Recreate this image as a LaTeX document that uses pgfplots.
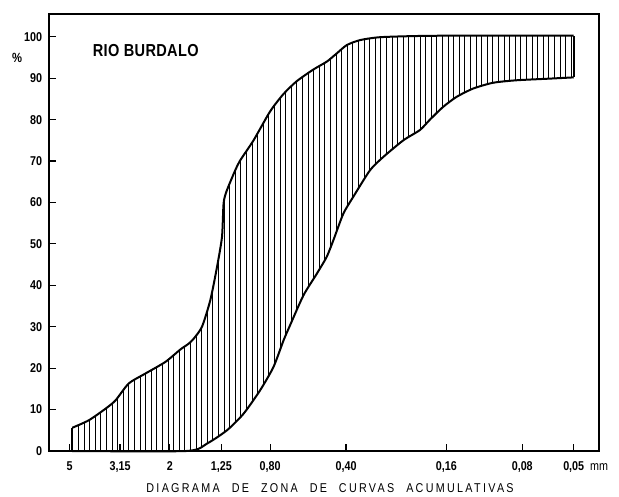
\documentclass[border=0pt]{standalone}
\usepackage{fontspec}
\setmainfont{Liberation Sans}[FakeStretch=0.84]
\usepackage{pgfplots}
\pgfplotsset{compat=1.18}
\usepgfplotslibrary{fillbetween}
\usetikzlibrary{patterns.meta}

\pgfplotstableread{
x y
4.88 5.6
4.195 7.4
3.601 10.2
3.287 12.2
2.911 16.3
2.500 18.7
2.084 21.5
1.817 24.5
1.685 25.9
1.609 27.1
1.491 30.0
1.382 36.4
1.300 44.4
1.242 51.7
1.224 59.8
1.190 62.8
1.100 67.8
1.051 70.2
0.931 75.0
0.800 82.0
0.708 86.2
0.627 89.3
0.539 92.1
0.477 94.0
0.4352 96.0
0.3973 98.0
0.3520 99.2
0.2934 99.9
0.2036 100.2
0.1253 100.3
0.05 100.3
}\uppertab

\pgfplotstableread{
x y
4.88 0
1.720 0
1.424 1.8
1.187 5.0
1.020 9.0
0.876 14.7
0.776 20.3
0.708 26.7
0.6665 30.4
0.590 37.6
0.5224 42.8
0.477 46.9
0.449 50.9
0.4100 57.3
0.3742 61.4
0.3212 67.8
0.2845 71.0
0.2371 75.0
0.2036 77.5
0.1859 80.0
0.1646 83.1
0.1457 85.5
0.1253 87.5
0.1044 88.9
0.0843 89.5
0.0622 89.9
0.05 90.2
}\lowertab

\begin{document}
\begin{tikzpicture}
\begin{axis}[
  scale only axis, width=412.5pt, height=327.75pt,
  xmode=log, x dir=reverse, xmin=0.0397, xmax=6.03,
  ymin=0, ymax=105.5,
  clip=false,
  axis line style={line width=1.2pt},
  tick style={line width=0.9pt, black},
  tick align=inside, major tick length=5.5pt,
  xminorticks=false, yminorticks=false,
  xtick={5,3.15,2,1.25,0.8,0.4,0.16,0.08,0.05},
  xticklabels={5,{3,15},2,{1,25},{0,80},{0,40},{0,16},{0,08},{0,05\rlap{\ \ \mdseries mm}}},
  ytick={0,10,...,100},
  xtick pos=bottom, ytick pos=left,
  tick label style={font=\fontsize{9.6}{10}\selectfont\bfseries},
  /pgf/number format/assume math mode=true,
  xticklabel style={yshift=-4.3pt},
  yticklabel style={xshift=-1.6pt},
  xlabel={\addfontfeature{LetterSpace=18}DIAGRAMA\hspace{5pt} DE\hspace{5pt} ZONA\hspace{5pt} DE\hspace{5pt} CURVAS\hspace{5pt} ACUMULATIVAS},
  xlabel style={at={(axis description cs:0.511,0)}, anchor=center, yshift=-27.5pt, font=\fontsize{9.6}{10}\selectfont},
]
\addplot[draw=none, name path=U, smooth, tension=0.4] table {\uppertab};
\addplot[draw=none, name path=L, smooth, tension=0.4] table {\lowertab};
\addplot[pattern={Lines[angle=90, distance=4.2pt, line width=0.7pt]}, pattern color=black, draw=none] fill between[of=U and L];
\addplot[black, line width=1.5pt, smooth, tension=0.4] table {\uppertab};
\addplot[black, line width=1.5pt, smooth, tension=0.4] table {\lowertab};
\addplot[black, line width=1.5pt] coordinates {(4.88,0) (4.88,5.6)};
\addplot[black, line width=1.5pt] coordinates {(0.05,90.2) (0.05,100.3)};
\node[anchor=west, inner sep=0pt, font=\fontsize{13}{14}\selectfont\bfseries] at (axis cs:4.05,96.8) {\addfontfeature{LetterSpace=2}RIO BURDALO};
\node[font=\fontsize{10}{10}\selectfont\bfseries] at (axis cs:8.07,94.9) {\%};
\coordinate (BL) at (axis description cs:0,0);
\coordinate (TR) at (axis description cs:1,1);
\end{axis}
\pgfresetboundingbox
\path ([shift={(-36.75pt,-34.5pt)}]BL) rectangle ([shift={(15pt,10.5pt)}]TR);
\end{tikzpicture}
\end{document}
